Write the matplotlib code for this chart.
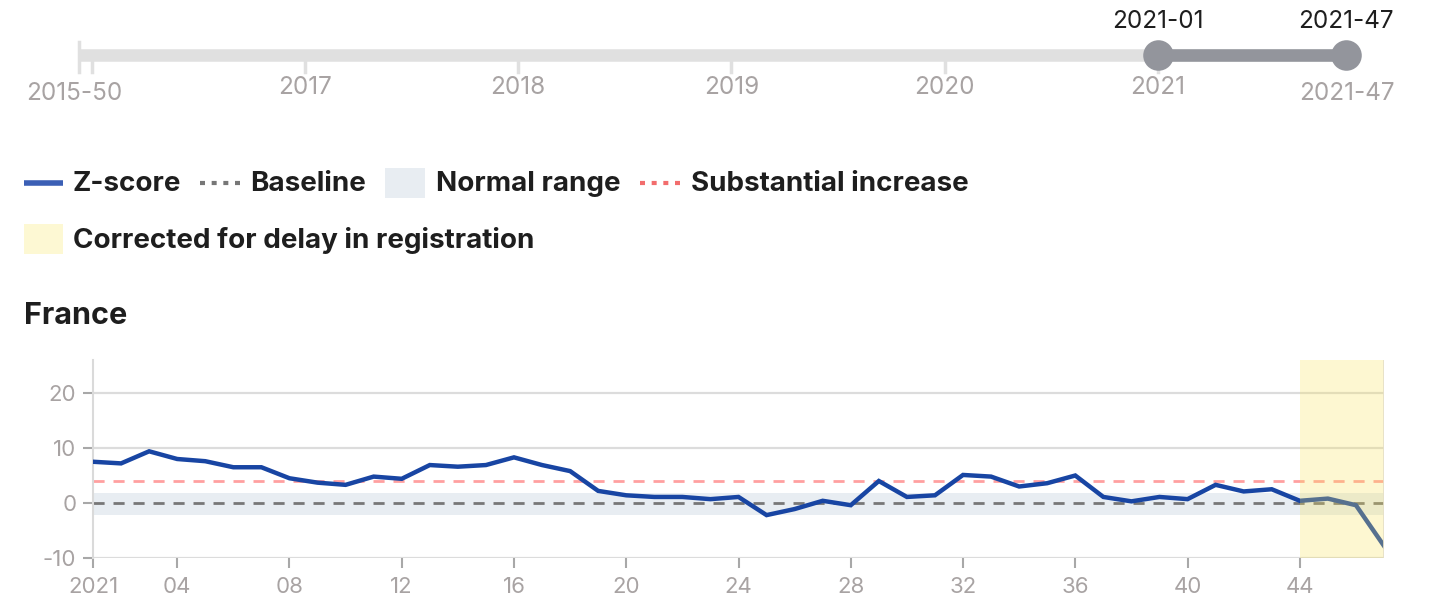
import matplotlib
matplotlib.use("Agg")
import matplotlib.pyplot as plt
from matplotlib.patches import Rectangle
import numpy as np

# ---------------- data ----------------
weeks = list(range(1, 48))
zscore = [7.5, 7.2, 9.4, 8.0, 7.6, 6.5, 6.5, 4.5, 3.7, 3.3,
          4.8, 4.4, 6.9, 6.6, 6.9, 8.3, 6.9, 5.8, 2.2, 1.4,
          1.1, 1.1, 0.7, 1.1, -2.2, -1.1, 0.4, -0.4, 4.0, 1.1,
          1.4, 5.1, 4.8, 3.0, 3.6, 5.0, 1.1, 0.3, 1.1, 0.7,
          3.3, 2.1, 2.5, 0.4, 0.8, -0.4, -7.8]
baseline = 0
substantial = 4
normal_low, normal_high = -2.2, 1.8
corrected_start, corrected_end = 44, 47
xticks = [1, 4, 8, 12, 16, 20, 24, 28, 32, 36, 40, 44]
xticklabels = ["2021", "04", "08", "12", "16", "20", "24", "28", "32", "36", "40", "44"]
yticks = [-10, 0, 10, 20]
country = "France"

# timeline slider
slider_years = [2016, 2017, 2018, 2019, 2020, 2021]
slider_year_labels = ["", "2017", "2018", "2019", "2020", "2021"]
slider_start = 2015 + 49 / 52.18
slider_start_label = "2015-50"
slider_end = 2021 + 46 / 52.18
slider_end_label = "2021-47"
sel_start = 2021.0
sel_start_label = "2021-01"
sel_end = slider_end
sel_end_label = "2021-47"

# ---------------- style ----------------
W, H = 1440, 614
FONT = "Inter"
plt.rcParams["font.family"] = [FONT, "DejaVu Sans"]
GREY_TXT = "#a8a3a3"
DARK = "#1e1e1e"
BLUE = "#1845a3"

fig = plt.figure(figsize=(W / 100, H / 100), dpi=100)

def fx(px):
    return px / W

def fy(py):
    return 1 - py / H

# ---------------- timeline overlay ----------------
ov = fig.add_axes([0, 0, 1, 1], zorder=5)
ov.set_axis_off()
px_per_year = 213.25
x0 = 2021 - 1158 / px_per_year
ov.set_xlim(x0, x0 + W / px_per_year)
ov.set_ylim(H, 0)
ov.patch.set_alpha(0)

bar_y = 55
ov.plot([slider_start, slider_end], [bar_y, bar_y], color="#e0e0e0", lw=9,
        solid_capstyle="butt")
ov.plot([slider_start, slider_start], [42, 72], color="#e0e0e0", lw=2.5)
for yr in slider_years:
    ov.plot([yr, yr], [60, 72], color="#e0e0e0", lw=2.5)
yl_fs = 17.5
for yr, lab in zip(slider_years, slider_year_labels):
    if lab:
        ov.text(yr, 87, lab, ha="center", va="center", fontsize=yl_fs,
                color=GREY_TXT)
ov.text(slider_start - 0.02, 94, slider_start_label, ha="center", va="center",
        fontsize=yl_fs, color=GREY_TXT)
ov.text(slider_end + 0.005, 94, slider_end_label, ha="center", va="center",
        fontsize=yl_fs, color=GREY_TXT)
ov.plot([sel_start, sel_end], [bar_y, bar_y], color="#93959c", lw=9,
        solid_capstyle="butt")
ov.plot([sel_start, sel_end], [bar_y, bar_y], "o", color="#93959c", ms=22,
        mec="none")
ov.text(sel_start, 22, sel_start_label, ha="center", va="center",
        fontsize=17.5, color=DARK)
ov.text(sel_end, 22, sel_end_label, ha="center", va="center",
        fontsize=17.5, color=DARK)

# ---------------- legend ----------------
leg_fs = 20
ly1, ly2 = 184, 240
ov2 = fig.add_axes([0, 0, 1, 1], zorder=6)
ov2.set_axis_off()
ov2.set_xlim(0, W)
ov2.set_ylim(H, 0)
ov2.patch.set_alpha(0)
ov2.plot([24, 63], [ly1 - 1, ly1 - 1], color="#3b5fb5", lw=4,
         solid_capstyle="butt")
ov2.text(73, ly1, "Z-score", va="center", ha="left", fontsize=leg_fs,
         fontweight="bold", color=DARK)
ov2.plot([200, 240], [ly1 - 1, ly1 - 1], color="#777777", lw=3,
         ls=(0, (1.2, 1.6)))
ov2.text(250, ly1, "Baseline", va="center", ha="left", fontsize=leg_fs,
         fontweight="bold", color=DARK)
ov2.add_patch(Rectangle((385, 168), 40, 30, color="#e8edf2", lw=0))
ov2.text(436, ly1, "Normal range", va="center", ha="left", fontsize=leg_fs,
         fontweight="bold", color=DARK)
ov2.plot([640, 681], [ly1 - 1, ly1 - 1], color="#f26d6d", lw=3,
         ls=(0, (1.2, 1.6)))
ov2.text(691, ly1, "Substantial increase", va="center", ha="left",
         fontsize=leg_fs, fontweight="bold", color=DARK)
ov2.add_patch(Rectangle((24, 224), 39, 30, color="#fdf8d3", lw=0))
ov2.text(73, ly2, "Corrected for delay in registration", va="center",
         ha="left", fontsize=leg_fs, fontweight="bold", color=DARK)
ov2.text(24, 316, country, va="center", ha="left", fontsize=22,
         fontweight="bold", color=DARK)

# ---------------- main chart ----------------
left_px, right_px, top_px, bot_px = 93, 1384, 360, 558
ax = fig.add_axes([fx(left_px), fy(bot_px), fx(right_px - left_px),
                   (bot_px - top_px) / H], zorder=1)
ax.set_xlim(weeks[0], weeks[-1])
ax.set_ylim(-10, 26)
for s in ["top", "right", "bottom"]:
    ax.spines[s].set_visible(False)
ax.spines["left"].set_color("#dadada")
ax.spines["left"].set_linewidth(1.5)
for yv in yticks:
    ax.axhline(yv, color="#dcdcdc", lw=1.6, zorder=0)
ax.axhspan(normal_low, normal_high, color="#e8edf2", lw=0, zorder=1)
ax.axhline(baseline, color="#777777", lw=2, ls=(0, (4, 3.2)), zorder=2)
ax.axhline(substantial, color="#ffa0a0", lw=2, ls=(0, (4, 3.2)), zorder=2)
ax.plot(weeks, zscore, color=BLUE, lw=3.2, zorder=3,
        solid_joinstyle="miter")
ax.axvspan(corrected_start, corrected_end, facecolor="#f8e35c", alpha=0.28,
           lw=0, zorder=4)
ax.axvline(corrected_end, color="#e6e0c8", lw=2, zorder=4)

ax.set_xticks(xticks)
ax.set_xticklabels(xticklabels)
ax.set_yticks(yticks)
ax.set_yticklabels([str(v) for v in yticks])
ax.tick_params(axis="x", length=7, width=1.5, color="#a8a8a8", pad=7,
               labelsize=16, labelcolor=GREY_TXT)
ax.tick_params(axis="y", length=7, width=1.5, color="#a8a8a8", pad=5,
               labelsize=16, labelcolor=GREY_TXT)

fig.savefig("out.png", dpi=100)
